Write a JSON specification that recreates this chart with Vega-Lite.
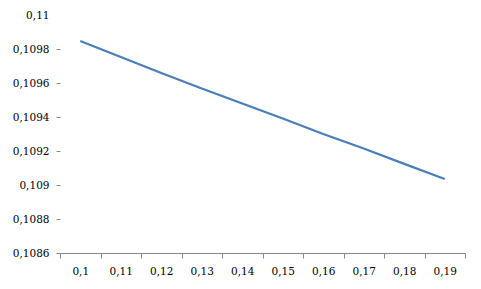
{
  "$schema": "https://vega.github.io/schema/vega-lite/v6.json",
  "width": 405,
  "height": 238,
  "autosize": {"type": "none"},
  "padding": {"left": 60, "top": 15, "right": 16, "bottom": 36},
  "background": "white",
  "data": {
    "values": [
      {"x": "0,1", "y": 0.109847},
      {"x": "0,11", "y": 0.109753},
      {"x": "0,12", "y": 0.109659},
      {"x": "0,13", "y": 0.109568},
      {"x": "0,14", "y": 0.109479},
      {"x": "0,15", "y": 0.109391},
      {"x": "0,16", "y": 0.109300},
      {"x": "0,17", "y": 0.109215},
      {"x": "0,18", "y": 0.109124},
      {"x": "0,19", "y": 0.109035}
    ]
  },
  "mark": {"type": "line", "color": "#4a7ebb", "strokeWidth": 2.25, "strokeCap": "butt"},
  "encoding": {
    "x": {
      "field": "x",
      "type": "ordinal",
      "sort": null,
      "scale": {"type": "band", "paddingInner": 0, "paddingOuter": 0},
      "bandPosition": 0.5,
      "axis": {
        "title": null,
        "labelAngle": 0,
        "tickBand": "extent",
        "tickSize": 5,
        "tickColor": "#868686",
        "domainColor": "#868686",
        "labelPadding": 8,
        "labelFont": "DejaVu Serif",
        "labelFontSize": 10.5,
        "labelColor": "#000000",
        "grid": false
      }
    },
    "y": {
      "field": "y",
      "type": "quantitative",
      "scale": {"domain": [0.1086, 0.11], "zero": false, "nice": false},
      "axis": {
        "title": null,
        "values": [0.1086, 0.1088, 0.109, 0.1092, 0.1094, 0.1096, 0.1098, 0.11],
        "labelExpr": "replace(format(datum.value, '.4~f'), '.', ',')",
        "domain": false,
        "grid": false,
        "tickSize": 4,
        "tickColor": "#868686",
        "tickOpacity": {"condition": {"test": "datum.value > 0.10999", "value": 0}, "value": 1},
        "labelPadding": 7,
        "labelFont": "DejaVu Serif",
        "labelFontSize": 10.5,
        "labelColor": "#000000"
      }
    }
  },
  "config": {"view": {"stroke": null}}
}
